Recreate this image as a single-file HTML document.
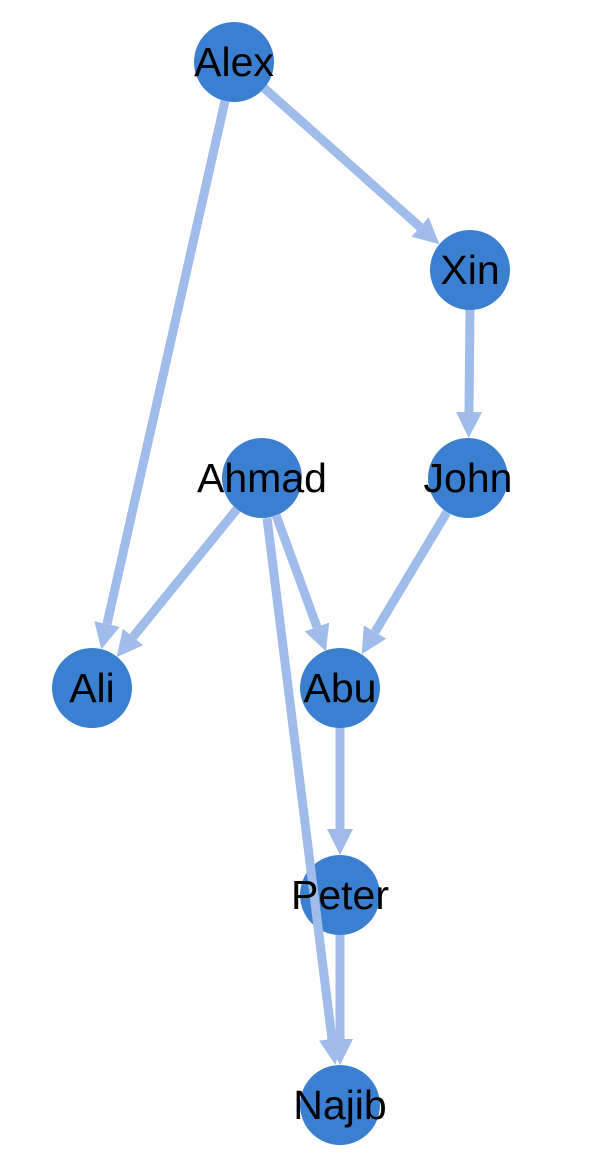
<!DOCTYPE html>
<html><head><meta charset="utf-8"><style>
html,body{margin:0;padding:0;background:#fff;}
svg{display:block;}
text{font-family:"Liberation Sans",Arial,sans-serif;font-size:41px;fill:#000;text-anchor:middle;dominant-baseline:central;}
</style></head><body>
<svg width="615" height="1162" viewBox="0 0 615 1162" xmlns="http://www.w3.org/2000/svg">
<defs>
<marker id="a" markerUnits="userSpaceOnUse" markerWidth="26" markerHeight="26" refX="0" refY="13" orient="auto">
<path d="M0,0 L26,13 L0,26 z" fill="#a0bcea"/>
</marker>
</defs>
<g fill="#3a7fd0">
<circle cx="234" cy="62" r="40"/>
<circle cx="470" cy="270" r="40"/>
<circle cx="468" cy="478" r="40"/>
<circle cx="262" cy="478" r="40"/>
<circle cx="92" cy="688" r="40"/>
<circle cx="340" cy="688" r="40"/>
<circle cx="340" cy="895" r="40"/>
<circle cx="340" cy="1105" r="40"/>
</g>
<g stroke="#a0bcea" stroke-width="9" fill="none" marker-end="url(#a)">
<line x1="225" y1="101" x2="107" y2="624"/>
<line x1="264" y1="88" x2="420" y2="227"/>
<line x1="470" y1="310" x2="469" y2="412"/>
<line x1="447" y1="512" x2="375" y2="632"/>
<line x1="237" y1="509" x2="133" y2="637"/>
<line x1="276" y1="515" x2="317" y2="627"/>
<line x1="267" y1="518" x2="332" y2="1039"/>
<line x1="340" y1="728" x2="340" y2="829"/>
<line x1="340" y1="935" x2="340" y2="1039"/>
</g>
<text x="234" y="62">Alex</text>
<text x="470" y="270">Xin</text>
<text x="468" y="478">John</text>
<text x="262" y="478">Ahmad</text>
<text x="92" y="688">Ali</text>
<text x="340" y="688">Abu</text>
<text x="340" y="895">Peter</text>
<text x="340" y="1105">Najib</text>
</svg>
</body></html>
